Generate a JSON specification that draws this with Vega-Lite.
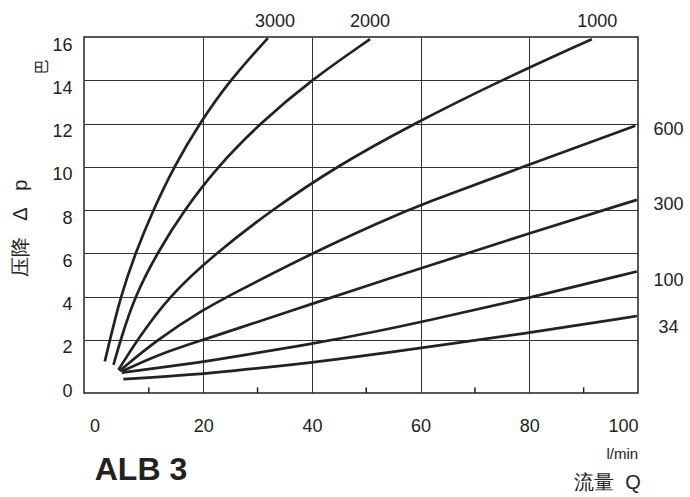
{
  "$schema": "https://vega.github.io/schema/vega-lite/v6.json",
  "width": 554,
  "height": 356,
  "autosize": {"type": "none"},
  "padding": {"left": 84, "top": 37, "right": 52, "bottom": 104},
  "background": "white",
  "config": {
    "view": {"stroke": "#222", "strokeWidth": 1.5},
    "font": "Liberation Sans"
  },
  "layer": [
    {
      "data": {"values": [
        {"p": "3000", "q": 1.9, "dp": 1.0}, {"p": "3000", "q": 2.85, "dp": 2}, {"p": "3000", "q": 4.8, "dp": 4}, {"p": "3000", "q": 7.5, "dp": 6}, {"p": "3000", "q": 10.8, "dp": 8}, {"p": "3000", "q": 14.6, "dp": 10}, {"p": "3000", "q": 19.3, "dp": 12}, {"p": "3000", "q": 24.9, "dp": 14}, {"p": "3000", "q": 31.9, "dp": 15.95},
        {"p": "2000", "q": 3.5, "dp": 0.84}, {"p": "2000", "q": 4.8, "dp": 2}, {"p": "2000", "q": 7.4, "dp": 4}, {"p": "2000", "q": 11.5, "dp": 6}, {"p": "2000", "q": 16.5, "dp": 8}, {"p": "2000", "q": 22.6, "dp": 10}, {"p": "2000", "q": 30.4, "dp": 12}, {"p": "2000", "q": 39.8, "dp": 14}, {"p": "2000", "q": 50.7, "dp": 15.9},
        {"p": "1000", "q": 4.4, "dp": 0.61}, {"p": "1000", "q": 7.9, "dp": 2}, {"p": "1000", "q": 13.6, "dp": 4}, {"p": "1000", "q": 22.3, "dp": 6}, {"p": "1000", "q": 32.6, "dp": 8}, {"p": "1000", "q": 44.4, "dp": 10}, {"p": "1000", "q": 58.8, "dp": 12}, {"p": "1000", "q": 74.8, "dp": 14}, {"p": "1000", "q": 91.5, "dp": 15.9},
        {"p": "600", "q": 4.6, "dp": 0.56}, {"p": "600", "q": 11.5, "dp": 2}, {"p": "600", "q": 20, "dp": 3.4}, {"p": "600", "q": 26, "dp": 4.2}, {"p": "600", "q": 40, "dp": 6}, {"p": "600", "q": 52.6, "dp": 7.45}, {"p": "600", "q": 60, "dp": 8.25}, {"p": "600", "q": 80, "dp": 10.1}, {"p": "600", "q": 99.5, "dp": 11.9},
        {"p": "300", "q": 5.0, "dp": 0.53}, {"p": "300", "q": 11.5, "dp": 1.3}, {"p": "300", "q": 20, "dp": 2.0}, {"p": "300", "q": 25, "dp": 2.41}, {"p": "300", "q": 40, "dp": 3.66}, {"p": "300", "q": 52.6, "dp": 4.7}, {"p": "300", "q": 60, "dp": 5.3}, {"p": "300", "q": 80, "dp": 6.93}, {"p": "300", "q": 99.8, "dp": 8.47},
        {"p": "100", "q": 5.0, "dp": 0.48}, {"p": "100", "q": 20, "dp": 0.98}, {"p": "100", "q": 25.8, "dp": 1.22}, {"p": "100", "q": 40, "dp": 1.81}, {"p": "100", "q": 52.6, "dp": 2.42}, {"p": "100", "q": 60, "dp": 2.82}, {"p": "100", "q": 80, "dp": 3.93}, {"p": "100", "q": 99.8, "dp": 5.16},
        {"p": "34", "q": 5.3, "dp": 0.18}, {"p": "34", "q": 15, "dp": 0.33}, {"p": "34", "q": 25, "dp": 0.55}, {"p": "34", "q": 40, "dp": 0.94}, {"p": "34", "q": 52.6, "dp": 1.36}, {"p": "34", "q": 60, "dp": 1.63}, {"p": "34", "q": 80, "dp": 2.31}, {"p": "34", "q": 99.8, "dp": 3.1}
      ]},
      "mark": {"type": "line", "color": "#222", "strokeWidth": 2.7, "interpolate": "basis"},
      "encoding": {
        "x": {
          "field": "q", "type": "quantitative",
          "scale": {"domain": [-1.93, 100], "nice": false, "zero": false},
          "axis": {
            "values": [0, 20, 40, 60, 80, 100],
            "title": null,
            "grid": true,
            "gridColor": "#333",
            "gridWidth": 1,
            "gridOpacity": {"condition": {"test": "datum.value <= 0 || datum.value >= 100", "value": 0}, "value": 1},
            "domain": false,
            "ticks": false,
            "labelFontSize": 18,
            "labelColor": "#222",
            "labelPadding": 24,
            "labelFont": "Liberation Sans"
          }
        },
        "y": {
          "field": "dp", "type": "quantitative",
          "scale": {"domain": [-0.46, 16], "nice": false, "zero": false},
          "axis": {
            "values": [0, 2, 4, 6, 8, 10, 12, 14, 16],
            "title": "压降\u00a0\u00a0\u00a0Δ\u00a0\u00a0\u00a0p",
            "titleFontSize": 20,
            "titleFontWeight": "normal",
            "titleColor": "#222",
            "titleFont": "Liberation Sans",
            "titleX": -64,
            "titleY": 191,
            "titleAngle": 270,
            "titleAlign": "center",
            "titleBaseline": "middle",
            "grid": true,
            "gridColor": "#333",
            "gridWidth": 1,
            "gridOpacity": {"condition": {"test": "datum.value <= 0 || datum.value >= 16", "value": 0}, "value": 1},
            "domain": false,
            "ticks": false,
            "labelFontSize": 18,
            "labelColor": "#222",
            "labelPadding": 12,
            "labelOffset": 8,
            "labelFont": "Liberation Sans"
          }
        },
        "detail": {"field": "p"}
      }
    },
    {
      "data": {"values": [{"q": 10}, {"q": 30}, {"q": 50}, {"q": 70}, {"q": 90}]},
      "mark": {"type": "rule", "color": "#222", "strokeWidth": 1.5},
      "encoding": {
        "x": {"field": "q", "type": "quantitative"},
        "y": {"datum": -0.46},
        "y2": {"datum": -0.2}
      }
    },
    {
      "data": {"values": [
        {"label": "3000", "q": 33.2, "dp": 16.7},
        {"label": "2000", "q": 50.7, "dp": 16.7},
        {"label": "1000", "q": 92.5, "dp": 16.7},
        {"label": "600", "q": 105.6, "dp": 11.7},
        {"label": "300", "q": 105.6, "dp": 8.23},
        {"label": "100", "q": 105.6, "dp": 4.72},
        {"label": "34", "q": 105.6, "dp": 2.55}
      ]},
      "mark": {"type": "text", "fontSize": 18, "color": "#222", "align": "center", "baseline": "middle", "font": "Liberation Sans"},
      "encoding": {
        "x": {"field": "q", "type": "quantitative"},
        "y": {"field": "dp", "type": "quantitative"},
        "text": {"field": "label"}
      }
    },
    {
      "data": {"values": [{"label": "巴", "q": -9.66, "dp": 14.61}]},
      "mark": {"type": "text", "fontSize": 15, "color": "#222", "align": "center", "baseline": "middle", "angle": 270, "font": "Noto Sans CJK SC"},
      "encoding": {
        "x": {"field": "q", "type": "quantitative"},
        "y": {"field": "dp", "type": "quantitative"},
        "text": {"field": "label"}
      }
    },
    {
      "data": {"values": [{"label": "l/min", "q": 97.1, "dp": -3.28}]},
      "mark": {"type": "text", "fontSize": 15, "color": "#222", "align": "center", "baseline": "middle", "font": "Liberation Sans"},
      "encoding": {
        "x": {"field": "q", "type": "quantitative"},
        "y": {"field": "dp", "type": "quantitative"},
        "text": {"field": "label"}
      }
    },
    {
      "data": {"values": [{"label": "流量\u00a0\u00a0Q", "q": 94.4, "dp": -4.62}]},
      "mark": {"type": "text", "fontSize": 20, "color": "#222", "align": "center", "baseline": "middle", "font": "Liberation Sans"},
      "encoding": {
        "x": {"field": "q", "type": "quantitative"},
        "y": {"field": "dp", "type": "quantitative"},
        "text": {"field": "label"}
      }
    },
    {
      "data": {"values": [{"label": "ALB 3", "q": 8.55, "dp": -4.02}]},
      "mark": {"type": "text", "fontSize": 32, "fontWeight": "bold", "color": "#222", "align": "center", "baseline": "middle", "font": "Liberation Sans"},
      "encoding": {
        "x": {"field": "q", "type": "quantitative"},
        "y": {"field": "dp", "type": "quantitative"},
        "text": {"field": "label"}
      }
    }
  ]
}
